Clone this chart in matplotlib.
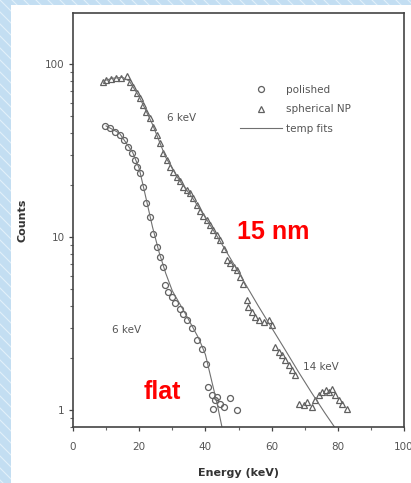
import numpy as np
import matplotlib
matplotlib.use("Agg")
import matplotlib.pyplot as plt
from matplotlib.lines import Line2D
from matplotlib.patches import Rectangle

# Polished target: energy (keV) and counts
pol_e = [9.6, 11.1, 12.6, 14.1, 15.4, 16.7, 17.7, 18.7, 19.4, 20.2, 21.2, 22.2,
         23.2, 24.2, 25.3, 26.3, 27.3, 27.8, 28.8, 29.8, 30.8, 32.3, 33.3, 34.3,
         35.9, 37.4, 38.9, 40.2, 40.9, 41.9, 42.4, 42.9, 43.4, 44.4, 45.5, 47.5, 49.5]
pol_c = [44.0, 42.7, 40.8, 39.0, 36.5, 33.4, 30.6, 28.0, 25.6, 23.4, 19.6, 15.7,
         13.1, 10.5, 8.8, 7.7, 6.7, 5.3, 4.84, 4.53, 4.14, 3.87, 3.62, 3.32,
         2.97, 2.54, 2.27, 1.86, 1.36, 1.22, 1.02, 1.14, 1.19, 1.09, 1.05, 1.17, 1.0]

# Spherical nanoparticle target
sph_e = [9.1, 10.1, 11.6, 13.1, 14.6, 16.2, 17.2, 18.2, 19.2, 20.2, 21.2, 22.2,
         23.2, 24.2, 25.3, 26.3, 27.3, 28.3, 29.3, 30.3, 31.3, 32.3, 33.3, 34.3,
         35.4, 36.4, 37.4, 38.4, 39.4, 40.4, 41.4, 42.4, 43.4, 44.4, 45.5, 46.5,
         47.5, 48.5, 49.5, 50.5, 51.5, 52.5, 53.0, 54.0, 55.1, 56.1, 57.6, 59.1,
         60.1, 61.1, 62.1, 63.1, 64.1, 65.2, 66.2, 67.2, 68.2, 69.7, 70.7, 72.2,
         73.2, 74.2, 75.3, 76.3, 77.3, 78.3, 79.3, 80.3, 81.3, 82.8]
sph_c = [79, 81, 82, 83, 83, 85, 79, 74, 68, 64, 58, 53,
         48.7, 43.6, 39, 34.9, 30.6, 28, 25.6, 23.9, 22.4, 21, 19.6, 18.8,
         17.9, 16.8, 15.4, 14.1, 13.2, 12.6, 11.8, 11.0, 10.3, 9.6, 8.6, 7.4,
         7.1, 6.75, 6.45, 5.9, 5.4, 4.33, 3.96, 3.7, 3.47, 3.32, 3.24, 3.32,
         3.1, 2.33, 2.18, 2.08, 1.95, 1.82, 1.70, 1.59, 1.09, 1.07, 1.12, 1.05,
         1.14, 1.22, 1.28, 1.31, 1.28, 1.33, 1.22, 1.14, 1.09, 1.02]

# Temperature fits
pol_fit_e = [10, 14, 18, 20, 22, 24, 26, 28, 30, 34, 38, 40, 42, 43.5, 45]
pol_fit_c = [44, 40, 31, 25, 17, 11.5, 8.2, 6.2, 4.9, 3.6, 2.6, 2.1, 1.45, 1.1, 0.8]
sph_fit_e = [9, 12, 15, 17, 20, 24, 28, 32, 36, 40, 44, 48, 52, 56, 60, 64, 68, 72, 76, 79]
sph_fit_c = [80, 83, 84, 80, 65, 45, 29, 21.5, 17, 13, 9.8, 7.3, 5.4, 4.0, 3.0,
             2.25, 1.68, 1.27, 0.97, 0.8]

x_ticks = [0, 20, 40, 60, 80, 100]
x_ticklabels = ["0", "20", "40", "60", "80", "100"]
y_ticks = [1, 10, 100]
y_ticklabels = ["1", "10", "100"]

W, H = 411, 483
fig = plt.figure(figsize=(W / 100, H / 100), dpi=100)
fig.patch.set_facecolor("#c3def2")

# striped backdrop
for k in range(-60, 60):
    x0 = k * 12 / W
    fig.add_artist(Line2D([x0, x0 + 1.2], [1.0, 1.0 - 1.2 * W / H],
                          transform=fig.transFigure, color="#e2f0fa",
                          lw=0.8, zorder=0))
fig.add_artist(Rectangle((11 / W, 0), 1, 1 - 5 / H, transform=fig.transFigure,
                         facecolor="white", edgecolor="none", zorder=0.5))

ax = fig.add_axes([73 / W, 1 - 427 / H, (404 - 73) / W, (427 - 13.3) / H])
ax.set_facecolor("none")
ax.set_zorder(2)

gray = "#555555"
pol, = ax.plot(pol_e, pol_c, ls="none", marker="o", ms=4.3, mfc="none",
               mec="#606060", mew=0.9)
sph, = ax.plot(sph_e, sph_c, ls="none", marker="^", ms=4.0, mfc="none",
               mec="#606060", mew=0.9)
fit, = ax.plot(pol_fit_e, pol_fit_c, color="#707070", lw=0.8)
ax.plot(sph_fit_e, sph_fit_c, color="#707070", lw=0.8)

ax.set_yscale("log")
ax.set_xlim(0, 100)
ax.set_ylim(0.8, 197)
ax.set_xticks(x_ticks)
ax.set_xticklabels(x_ticklabels)
ax.set_xticks(np.arange(10, 100, 20), minor=True)
ax.set_yticks(y_ticks)
ax.set_yticklabels(y_ticklabels)
ax.tick_params(axis="both", which="major", direction="out", length=3,
               width=0.9, color="#444444", labelsize=7.5, labelcolor=gray)
ax.tick_params(axis="x", which="major", pad=8)
ax.tick_params(axis="y", which="major", pad=3)
ax.tick_params(axis="both", which="minor", direction="out", length=2,
               width=0.8, color="#666666")
ax.yaxis.set_minor_formatter(plt.NullFormatter())
for s in ax.spines.values():
    s.set_color("#444444")
    s.set_linewidth(1.2)

ax.set_xlabel("Energy (keV)", fontsize=8, fontweight="bold", color="#333333",
              labelpad=11)
ax.set_ylabel("Counts", fontsize=8, fontweight="bold", color="#333333",
              labelpad=12.5)

ax.legend([pol, sph, fit], ["polished", "spherical NP", "temp fits"],
          loc="upper left", bbox_to_anchor=(240 / W, 1 - 85 / H),
          bbox_transform=fig.transFigure, frameon=False, fontsize=7.5,
          handlelength=4.0, handletextpad=0.4, labelspacing=0.9,
          borderpad=0, borderaxespad=0, labelcolor=gray)

ax.text(28.5, 49, "6 keV", fontsize=7.5, color=gray, va="center")
ax.text(11.8, 2.9, "6 keV", fontsize=7.5, color=gray, va="center")
ax.text(69.4, 1.77, "14 keV", fontsize=7.5, color=gray, va="center")

ax.text(49.5, 10.7, "15 nm", fontsize=18, fontweight="bold", color="#ff0000",
        family="Liberation Sans", va="center")
ax.text(21.3, 1.27, "flat", fontsize=18, fontweight="bold", color="#ff0000",
        family="Liberation Sans", va="center")

fig.savefig("out.png", dpi=100)
